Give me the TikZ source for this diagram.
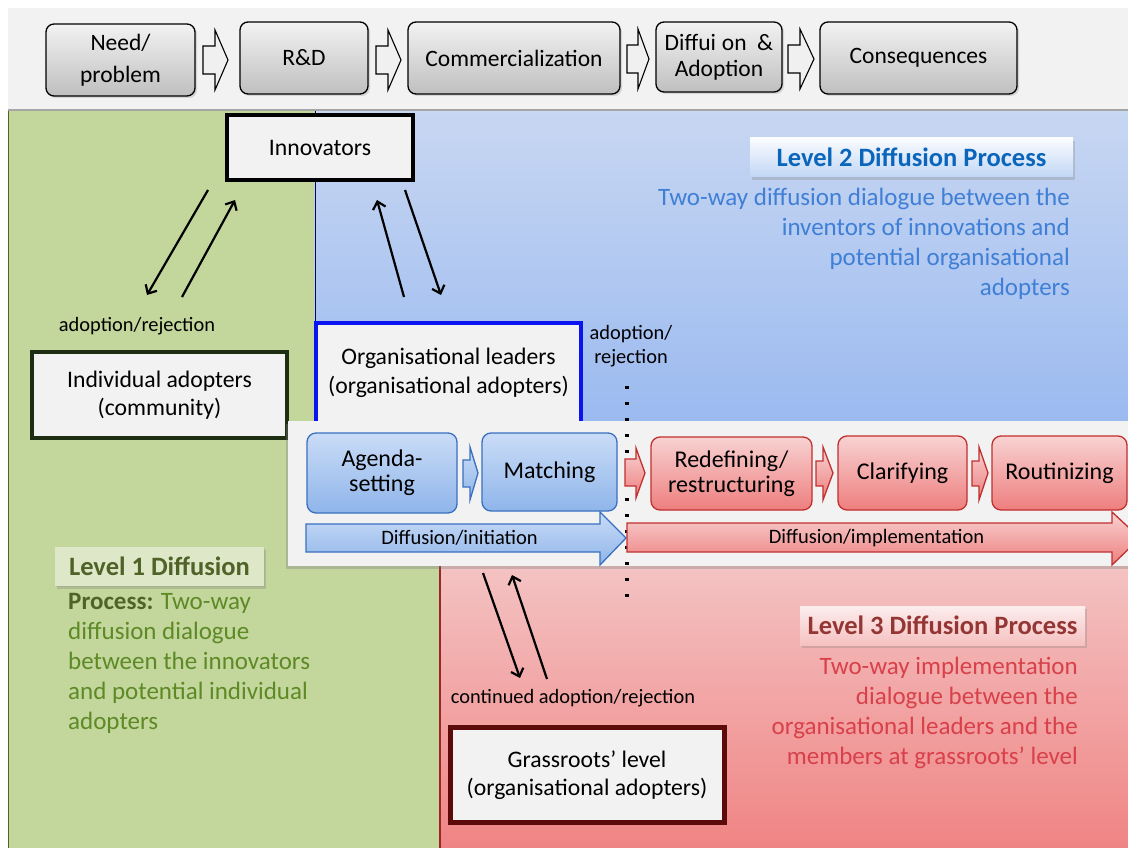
\documentclass[tikz,border=0pt]{standalone}
\usepackage{fontspec}
\setmainfont{Carlito}
\usetikzlibrary{arrows.meta,shadows}
\definecolor{bandgray}{HTML}{F2F2F2}
\definecolor{greenbg}{HTML}{C3D69B}
\definecolor{greenline}{HTML}{4F6228}
\definecolor{bluetop}{HTML}{C8D7F2}
\definecolor{bluebot}{HTML}{9BBAF0}
\definecolor{redtop}{HTML}{F4C4C4}
\definecolor{redbot}{HTML}{F08484}
\definecolor{boxbluetop}{HTML}{CADCF7}
\definecolor{boxbluebot}{HTML}{8FB5EA}
\definecolor{boxblueline}{HTML}{3A70C0}
\definecolor{boxredtop}{HTML}{F8D2D2}
\definecolor{boxredbot}{HTML}{EE7E7E}
\definecolor{boxredline}{HTML}{C0302F}
\definecolor{lvtwo}{HTML}{0B66BB}
\definecolor{lvtwotext}{HTML}{3F7FD6}
\definecolor{lvone}{HTML}{4F6228}
\definecolor{lvonetext}{HTML}{5D8A26}
\definecolor{lvthree}{HTML}{943634}
\definecolor{lvthreetext}{HTML}{D8404A}
\definecolor{grassline}{HTML}{5C0A0A}
\definecolor{indivline}{HTML}{1E2E12}
\definecolor{orgline}{HTML}{0A14F0}
\begin{document}
\begin{tikzpicture}[x=1pt,y=-1pt,
  topbox/.style={draw=black, line width=1.3pt, rounded corners=8pt, top color=gray!10, bottom color=gray!50,
    font=\fontsize{23.5}{26}\selectfont, align=center, inner sep=0pt,
    drop shadow={opacity=0.25,shadow xshift=2pt,shadow yshift=-2pt}},
  hollow/.style={draw=black, line width=1.1pt, fill=gray!12},
  actor/.style={fill=bandgray, line width=4pt, align=center, inner sep=0pt, font=\fontsize{23.7}{28.5}\selectfont},
  bluebox/.style={draw=boxblueline, line width=1.3pt, rounded corners=9pt, top color=boxbluetop, bottom color=boxbluebot,
    align=center, inner sep=0pt, font=\fontsize{24}{25}\selectfont},
  redbox/.style={draw=boxredline, line width=1.3pt, rounded corners=9pt, top color=boxredtop, bottom color=boxredbot,
    align=center, inner sep=0pt, font=\fontsize{24}{25}\selectfont},
  bluearr/.style={draw=boxblueline, line width=1.3pt, top color=boxbluetop, bottom color=boxbluebot},
  redarr/.style={draw=boxredline, line width=1.3pt, top color=boxredtop, bottom color=boxredbot},
  conn/.style={line width=2.2pt, -{Straight Barb[length=7pt,width=13pt]}},
  lbl/.style={font=\fontsize{20.4}{24}\selectfont, align=center, inner sep=0pt},
  arrlbl/.style={font=\fontsize{20.5}{22}\selectfont, inner sep=0pt},
  headbox/.style={minimum height=39pt, inner sep=0pt, font=\bfseries\fontsize{26.5}{30}\selectfont,
    drop shadow={opacity=0.3,shadow xshift=2pt,shadow yshift=-3pt}},
  desc/.style={font=\fontsize{25}{30}\selectfont, inner sep=0pt},
]
\useasboundingbox (0,0) rectangle (1128,848);
\clip (0,0) rectangle (1128,848);
% backgrounds
\fill[white] (0,0) rectangle (1128,848);
\fill[bandgray] (8,8) rectangle (1128,110);
\fill[greenbg] (8,110) rectangle (440,848);
\draw[greenline, line width=1.2pt] (8.6,110) -- (8.6,848);
\shade[top color=bluetop, bottom color=bluebot] (315,110) rectangle (1128,422);
\draw[blue!60!black, line width=1pt] (315,110) -- (315,422);
\shade[top color=redtop, bottom color=redbot] (440,560) rectangle (1128,848);
\draw[boxredline!80!black, line width=1.2pt] (440,560) -- (440,848);
\draw[gray!70, line width=1.5pt] (8,110) -- (1128,110);

% top process chain
\node[topbox, minimum width=149pt, minimum height=72pt, font=\fontsize{23.5}{32}\selectfont] (need) at (120.5,60) {Need/\\problem};
\node[topbox, minimum width=128pt, minimum height=72pt] (rd) at (304,58) {R\&D};
\node[topbox, minimum width=212pt, minimum height=72pt] (comm) at (514,58) {Commercialization};
\node[topbox, minimum width=126pt, minimum height=70pt] (diff) at (719,57) {Diffui\hspace{0.25em}on\hspace{0.45em}\&\\Adoption};
\node[topbox, minimum width=197pt, minimum height=72pt] (cons) at (918.5,58) {Consequences};
\draw[hollow] (203,46)--(215,46)--(215,30)--(228,60)--(215,90)--(215,74)--(203,74)--cycle;
\draw[hollow] (376,46)--(388,46)--(388,30)--(401,60)--(388,90)--(388,74)--(376,74)--cycle;
\draw[hollow] (627,45)--(638,45)--(638,29)--(649,59)--(638,89)--(638,73)--(627,73)--cycle;
\draw[hollow] (788,45)--(800,45)--(800,29)--(814,59)--(800,89)--(800,73)--(788,73)--cycle;

% level 2 text
\node[headbox, minimum width=323pt, top color=white!92!boxbluetop, bottom color=boxbluetop!85!boxbluebot, text=lvtwo] (lv2) at (911.5,157.5) {Level 2 Diffusion Process};
\node[desc, text=lvtwotext, align=right, anchor=east] (lv2d) at (1070,244) {Two-way diffusion dialogue between the\\inventors of innovations and\\potential organisational\\adopters};

% actors
\node[actor, draw=black, minimum width=186pt, minimum height=65pt] (innov) at (320,147.5) {Innovators};
\node[actor, draw=indivline, minimum width=255pt, minimum height=86pt] (indiv) at (159.5,395) {Individual adopters\\(community)};
\node[actor, draw=orgline, line width=3.5pt, minimum width=265pt, minimum height=100pt] (org) at (448.5,373) {Organisational leaders\\(organisational adopters)};

\node[lbl] (ar1) at (137,326) {adoption/rejection};
\node[lbl] (ar2) at (631,346) {adoption/\\rejection};

% arrows innovators
\coordinate (a1s) at (208,190); \coordinate (a1e) at (147,295);
\coordinate (a2s) at (182,297); \coordinate (a2e) at (235,200);
\coordinate (a3s) at (404,297); \coordinate (a3e) at (377,200);
\coordinate (a4s) at (405,190); \coordinate (a4e) at (441,295);
\draw[conn] (a1s) -- (a1e);
\draw[conn] (a2s) -- (a2e);
\draw[conn] (a3s) -- (a3e);
\draw[conn] (a4s) -- (a4e);

% middle band
\fill[bandgray, drop shadow={opacity=0.35,shadow xshift=-2pt,shadow yshift=-3pt}] (288,421) rectangle (1135,566);
\draw[line width=3.2pt, dash pattern=on 3.2pt off 12.8pt] (627,386) -- (627,598);
\node[bluebox, minimum width=150pt, minimum height=80pt] (agenda) at (382,473) {Agenda-\\setting};
\node[bluebox, minimum width=135pt, minimum height=78pt] (match) at (549.5,472) {Matching};
\node[redbox, minimum width=161pt, minimum height=73pt] (redef) at (731.5,473.5) {Redefining/\\restructuring};
\node[redbox, minimum width=129pt, minimum height=74pt] (clar) at (902.5,473) {Clarifying};
\node[redbox, minimum width=135pt, minimum height=74pt] (rout) at (1059.5,473) {Routinizing};
\draw[bluearr] (463,460)--(470,460)--(470,447)--(478,473)--(470,500)--(470,487)--(463,487)--cycle;
\draw[redarr] (625,459)--(636,459)--(636,448)--(645,473)--(636,498)--(636,486)--(625,486)--cycle;
\draw[redarr] (816,461)--(823,461)--(823,447)--(833,473)--(823,500)--(823,486)--(816,486)--cycle;
\draw[redarr] (972,461)--(979,461)--(979,447)--(988,473)--(979,500)--(979,486)--(972,486)--cycle;
\draw[bluearr] (306,524)--(600,524)--(600,512)--(626,538)--(600,565)--(600,552)--(306,552)--cycle;
\draw[redarr] (627,523)--(1112,523)--(1112,512)--(1140,538)--(1112,565)--(1112,552)--(627,552)--cycle;
\node[arrlbl] (init) at (459.5,538) {Diffusion/initiation};
\node[arrlbl] (impl) at (876.5,538) {Diffusion/implementation};

% level 1 text
\node[headbox, minimum width=209pt, fill=greenbg!55!white, text=lvone, drop shadow={opacity=0.15,shadow xshift=1pt,shadow yshift=-1pt}] (lv1) at (159.5,566) {Level 1 Diffusion};
\node[desc, text=lvonetext, align=left, anchor=west] (lv1d) at (68,663) {\textbf{\color{lvone}Process:} Two-way\\diffusion dialogue\\between the innovators\\and potential individual\\adopters};

% level 3 text
\node[headbox, minimum width=285pt, top color=boxredtop!40!white, bottom color=boxredtop!80!boxredbot, text=lvthree] (lv3) at (942.5,625.5) {Level 3 Diffusion Process};
\node[desc, text=lvthreetext, align=right, anchor=east] (lv3d) at (1078,713) {Two-way implementation\\dialogue between the\\organisational leaders and the\\members at grassroots' level};

% grassroots
\coordinate (a5s) at (483,573); \coordinate (a5e) at (520,678);
\coordinate (a6s) at (547,679); \coordinate (a6e) at (512,575);
\draw[conn] (a5s) -- (a5e);
\draw[conn] (a6s) -- (a6e);
\node[lbl] (car) at (573,698) {continued adoption/rejection};
\node[actor, draw=grassline, line width=5pt, minimum width=274pt, minimum height=95pt] (grass) at (587,775) {Grassroots’ level\\(organisational adopters)};
\end{tikzpicture}
\end{document}
